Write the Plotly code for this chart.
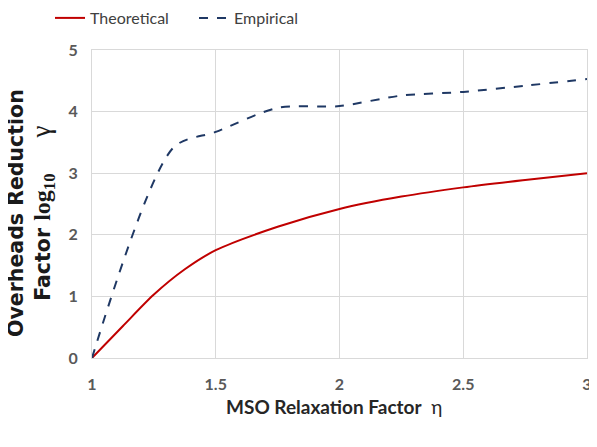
import plotly.graph_objects as go

theo_x = [1, 1.125, 1.25, 1.375, 1.5, 1.75, 2, 2.25, 2.5, 2.75, 3]
theo_y = [0, 0.52, 1.03, 1.44, 1.75, 2.13, 2.42, 2.62, 2.77, 2.89, 3.0]

emp_x = [1, 1.33, 1.5, 1.75, 2, 2.25, 2.5, 2.75, 3]
emp_y = [0, 3.42, 3.67, 4.06, 4.09, 4.26, 4.32, 4.42, 4.53]

x_ticks = [1, 1.5, 2, 2.5, 3]
x_tick_labels = ["1", "1.5", "2", "2.5", "3"]
y_ticks = [0, 1, 2, 3, 4, 5]

font_main = "Lato, Roboto, Arial, sans-serif"
grid = "#d9d9d9"
serif = "font-family:Liberation Serif, serif"

fig = go.Figure()
fig.add_trace(go.Scatter(x=theo_x, y=theo_y, mode="lines", name="Theoretical",
                         line=dict(color="#c00000", width=2, shape="spline", smoothing=0.8)))
fig.add_trace(go.Scatter(x=emp_x, y=emp_y, mode="lines", name="Empirical",
                         line=dict(color="#1f3864", width=2, dash="dash", shape="spline", smoothing=0.8)))

W, H = 589, 427
L, R, T, B = 84, 10, 42, 77
PW, PH = W - L - R, H - T - B

fig.update_layout(
    width=W, height=H,
    margin=dict(l=L, r=R, t=T, b=B, autoexpand=False),
    plot_bgcolor="white", paper_bgcolor="white",
    font=dict(family=font_main, color="#404040"),
    showlegend=True,
    legend=dict(orientation="h", xref="paper", yref="paper",
                x=(42 - L) / PW, y=1 + 32 / PH, xanchor="left", yanchor="middle",
                font=dict(size=16, color="#404040", family=font_main),
                itemwidth=30, entrywidth=99, entrywidthmode="pixels",
                tracegroupgap=0),
    xaxis=dict(range=[1, 3], tickvals=x_ticks, ticktext=x_tick_labels,
               showgrid=True, gridcolor=grid, gridwidth=1,
               zeroline=False, showline=True, linecolor=grid, mirror=True,
               ticks="", ticklabelstandoff=12, automargin=False,
               ticklabeloverflow="allow",
               tickfont=dict(size=16, color="#595959", family=font_main, weight="bold")),
    yaxis=dict(range=[0, 5], tickvals=y_ticks,
               showgrid=True, gridcolor=grid, gridwidth=1,
               zeroline=False, showline=True, linecolor=grid, mirror=True,
               ticks="", ticklabelstandoff=10, automargin=False,
               tickfont=dict(size=16, color="#595959", family=font_main, weight="bold")),
    annotations=[
        dict(text="<b>MSO Relaxation Factor</b>  η",
             xref="paper", yref="paper", x=(326 - L) / PW, y=-48 / PH,
             xanchor="center", yanchor="middle", showarrow=False,
             font=dict(size=19, color="#262626", family=font_main)),
        dict(text=("<b>Overheads Reduction</b><br><b>Factor </b>"
                   f"<span style='{serif};font-size:24px'><b>log<sub>10</sub></b>&nbsp;&nbsp;&nbsp;&nbsp;&nbsp;&nbsp;</span>"
                   f"<span style='{serif};font-size:27px'>γ</span>"),
             xref="paper", yref="paper", x=(23 - L) / PW, y=(350 - 205) / PH,
             xanchor="center", yanchor="middle", showarrow=False, textangle=-90,
             font=dict(size=20.5, color="#1a1a1a", family="DejaVu Sans, sans-serif")),
    ],
)

fig.write_html("out.html")
